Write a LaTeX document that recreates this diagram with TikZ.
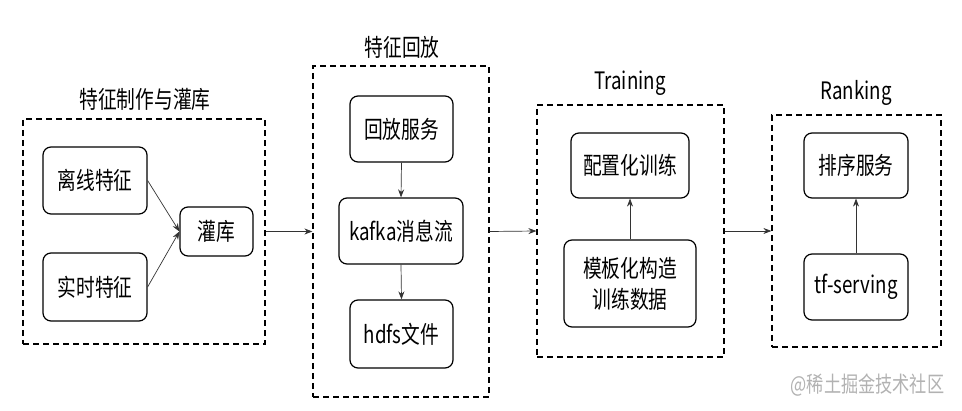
\documentclass[tikz,border=0pt]{standalone}
\usepackage{fontspec}
\setmainfont{Noto Sans CJK SC}[FakeStretch=0.78]
\usetikzlibrary{arrows.meta}
\begin{document}
\begin{tikzpicture}[x=1pt,y=-1pt,
  box/.style={draw=black,line width=1.2pt,rounded corners=8pt,inner sep=0pt,align=center,font=\fontsize{24}{31}\selectfont},
  grp/.style={draw=black,line width=1.2pt,dash pattern=on 6pt off 4pt,inner sep=0pt},
  ttl/.style={inner sep=0pt,font=\fontsize{24}{28}\selectfont},
  conn/.style={draw=black!80,line width=0.7pt,-{Stealth[length=8pt,width=6pt]}}]
\useasboundingbox (0,0) rectangle (962,411);
% groups
\node[grp,minimum width=242pt,minimum height=225pt] (g1) at (144,231.5) {};
\node[grp,minimum width=176pt,minimum height=331pt] (g2) at (401,231.5) {};
\node[grp,minimum width=187pt,minimum height=252pt] (g3) at (630.5,231) {};
\node[grp,minimum width=169pt,minimum height=232pt] (g4) at (856.5,231) {};
% titles
\node[ttl] (t1) at (145,99) {特征制作与灌库};
\node[ttl] (t2) at (402,47) {特征回放};
\node[ttl] (t3) at (630,83) {Training};
\node[ttl] (t4) at (856,93) {Ranking};
% boxes
\node[box,minimum width=104pt,minimum height=67pt] (A) at (95,180.5) {离线特征};
\node[box,minimum width=104pt,minimum height=68pt] (B) at (95,287) {实时特征};
\node[box,minimum width=73pt,minimum height=49pt] (C) at (216.5,231.5) {灌库};
\node[box,minimum width=103pt,minimum height=66pt] (D) at (401.5,129) {回放服务};
\node[box,minimum width=124pt,minimum height=66pt] (E) at (401,231) {kafka消息流};
\node[box,minimum width=103pt,minimum height=68pt] (F) at (401.5,334) {hdfs文件};
\node[box,minimum width=118pt,minimum height=65pt] (G) at (630,165.5) {配置化训练};
\node[box,minimum width=132pt,minimum height=87pt] (H) at (630,283.5) {模板化构造\\训练数据};
\node[box,minimum width=104pt,minimum height=65pt] (I) at (856,165.5) {排序服务};
\node[box,minimum width=104pt,minimum height=66pt] (J) at (856,287) {tf-serving};
% watermark
\node[inner sep=0pt,text=black!30,font=\fontsize{22}{24}\selectfont] (wm) at (867.5,385) {@稀土掘金技术社区};
% connectors
\draw[conn] (A.east) -- (C.west);
\draw[conn] (B.east) -- (C.west);
\draw[conn] (D.south) -- (E.north);
\draw[conn] (E.south) -- (F.north);
\draw[conn] (H.north) -- (G.south);
\draw[conn] (J.north) -- (I.south);
\draw[conn] (g1.east) -- (g2.west);
\draw[conn] (g2.east) -- (g3.west);
\draw[conn] (g3.east) -- (g4.west);
\end{tikzpicture}
\end{document}
